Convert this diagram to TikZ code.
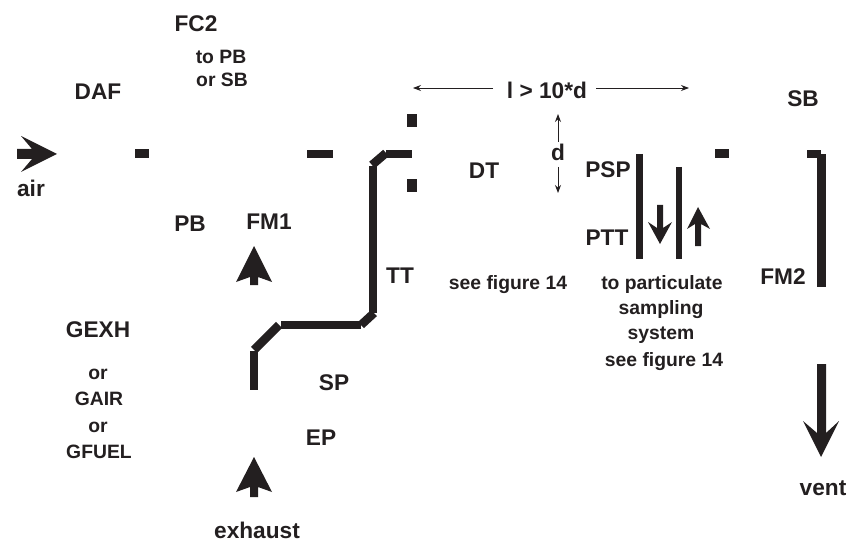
\documentclass[tikz,border=0pt]{standalone}
\usepackage{fontspec}
\setmainfont{Liberation Sans}
\definecolor{ink}{HTML}{231F20}
\tikzset{
  biglab/.style={anchor=base,inner sep=0pt,text=ink,font=\fontsize{17}{18}\selectfont\bfseries},
  smalllab/.style={anchor=base,inner sep=0pt,text=ink,font=\fontsize{14.5}{16}\selectfont\bfseries},
  solidpart/.style={fill=ink,draw=none},
  tube/.style={draw=ink,line width=6.4pt,line cap=butt},
  thintube/.style={draw=ink,line width=4.8pt,line cap=butt},
  dimline/.style={draw=ink,line width=0.6pt,-{Stealth[length=6pt,width=4.5pt]}}
}
\usetikzlibrary{arrows.meta}
\begin{document}
\begin{tikzpicture}[x=0.75pt,y=-0.75pt]
\useasboundingbox (0,0) rectangle (851,542);
% labels
\node[biglab] (fc2) at (196,32) {FC2};
\node[smalllab] (toPB) at (221,64) {to PB};
\node[smalllab] (orSB) at (222,87) {or SB};
\node[biglab] (daf) at (98,100) {DAF};
\node[biglab] (air) at (31,197) {air};
\node[biglab] (pb) at (190,231) {PB};
\node[biglab] (fm1) at (269,229) {FM1};
\node[biglab] (tt) at (400,283) {TT};
\node[biglab] (dt) at (484,179) {DT};
\node[biglab] (dd) at (558,161) {d};
\node[biglab] (ld) at (547,99) {l > 10*d};
\node[biglab] (psp) at (608,177) {PSP};
\node[biglab] (ptt) at (607,245) {PTT};
\node[smalllab] (see1) at (508,289) {see figure 14};
\node[smalllab] (part) at (662,289) {to particulate};
\node[smalllab] (samp) at (661,315) {sampling};
\node[smalllab] (syst) at (661,339) {system};
\node[smalllab] (see2) at (664,366) {see figure 14};
\node[biglab] (fm2) at (783,284) {FM2};
\node[biglab] (sb) at (803,107) {SB};
\node[biglab] (gexh) at (98,337) {GEXH};
\node[smalllab] (or1) at (98,379) {or};
\node[smalllab] (gair) at (99,405) {GAIR};
\node[smalllab] (or2) at (98,432) {or};
\node[smalllab] (gfuel) at (99,458) {GFUEL};
\node[biglab] (sp) at (334,390) {SP};
\node[biglab] (ep) at (321,445) {EP};
\node[biglab] (exh) at (257,538) {exhaust};
\node[biglab] (vent) at (823,495) {vent};
% dimension arrows
\coordinate (lA) at (493,88); \coordinate (lB) at (413,88);
\coordinate (rA) at (596,88); \coordinate (rB) at (689,88);
\coordinate (dA) at (558,142); \coordinate (dB) at (558,114);
\coordinate (eA) at (558,167); \coordinate (eB) at (558,193);
\draw[dimline] (lA) -- (lB);
\draw[dimline] (rA) -- (rB);
\draw[dimline] (dA) -- (dB);
\draw[dimline] (eA) -- (eB);
% short wall pieces
\fill[solidpart] (135,149) rectangle (149,158);
\fill[solidpart] (307,150) rectangle (333,158);
\fill[solidpart] (407,114) rectangle (417,127);
\fill[solidpart] (407,179) rectangle (417,192);
\fill[solidpart] (715,149) rectangle (729,158);
\fill[solidpart] (807,150) rectangle (821,158);
% transfer tube
\draw[tube] (373,313) -- (373,166);
\draw[tube] (372,165) -- (386,153);
\draw[tube] (386,154) -- (412,154);
\draw[tube] (374,313) -- (361,325);
\draw[tube] (361,325) -- (281,325);
\draw[tube] (279,325) -- (254,350);
\draw[tube] (254,351) -- (254,390);
% PSP and PTT
\draw[thintube] (639.5,154) -- (639.5,259);
\draw[thintube] (679,167) -- (679,259);
% FM2 line
\fill[solidpart] (817,154) rectangle (826,287);
% block arrows
\fill[solidpart] (17,149) -- (32,149) -- (21,136) -- (57,154) -- (21,172) -- (32,159) -- (17,159) -- cycle;
\fill[solidpart] (250,285) -- (250,277) -- (236,282) -- (254,246) -- (272,282) -- (258,277) -- (258,285) -- cycle;
\fill[solidpart] (250,497) -- (250,487) -- (236,492) -- (254,457) -- (272,492) -- (258,487) -- (258,497) -- cycle;
\fill[solidpart] (657,205) -- (663,205) -- (663,228) -- (672,222) -- (660,244) -- (648,222) -- (657,228) -- cycle;
\fill[solidpart] (695,246) -- (701,246) -- (701,224) -- (710,229) -- (698,207) -- (687,229) -- (695,224) -- cycle;
\fill[solidpart] (817,364) -- (826,364) -- (826,433) -- (839,421) -- (821,457) -- (803,421) -- (817,433) -- cycle;
\end{tikzpicture}
\end{document}
